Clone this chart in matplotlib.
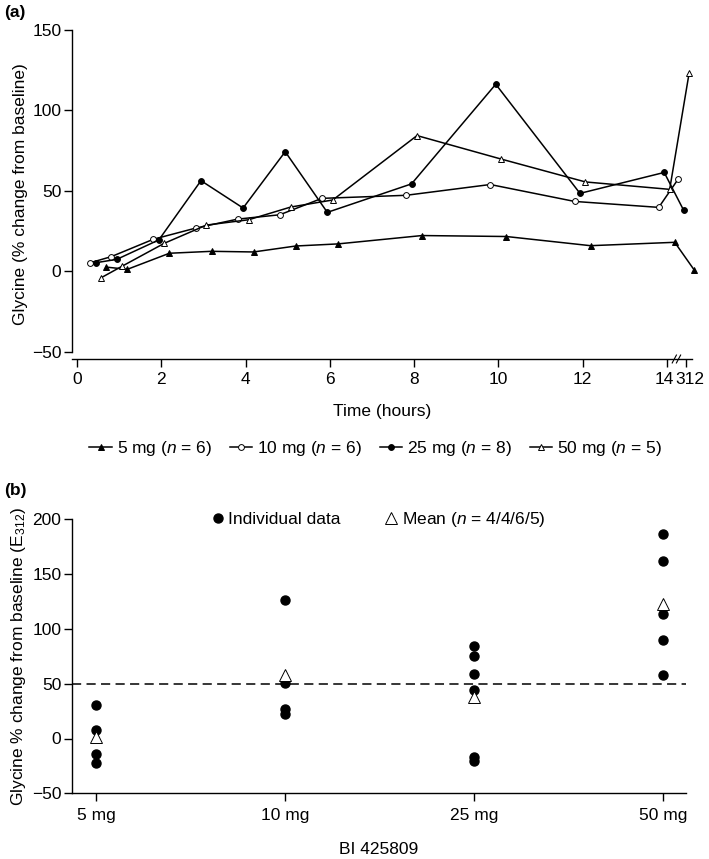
import matplotlib.pyplot as plt
import numpy as np
from matplotlib.lines import Line2D
from matplotlib.transforms import blended_transform_factory, ScaledTranslation

'''
DATA
'''

# panel (a): glycine % change from baseline over time, one list per dose
times = [0.5, 1, 2, 3, 4, 5, 6, 8, 10, 12, 14, 312]
glycine_5mg = [2.7, 1.3, 11.3, 12.5, 12.1, 15.8, 17.1, 22.3, 21.7, 16.0, 18.1, 1.0]
glycine_10mg = [5.4, 9.2, 20.0, 26.9, 32.5, 35.2, 45.4, 47.3, 54.0, 43.5, 39.8, 57.3]
glycine_25mg = [5.4, 7.5, 19.6, 56.4, 39.4, 74.4, 36.7, 54.4, 116.3, 48.5, 61.5, 38.1]
glycine_50mg = [-3.9, 3.3, 17.5, 28.8, 32.1, 40.0, 44.4, 84.4, 69.8, 55.6, 51.0, 123.0]
time_ticks = [0, 2, 4, 6, 8, 10, 12, 14, 312]

# panel (b): E312 per subject and mean, by dose
doses = ['5 mg', '10 mg', '25 mg', '50 mg']
individual = [
    [31.0, 8.2, -14.3, -22.2],
    [126.2, 50.7, 27.0, 21.9],
    [84.8, 75.4, 58.7, 44.7, -16.8, -20.7],
    [187.0, 162.0, 114.0, 90.3, 57.5],
]
means = [1.5, 57.5, 37.5, 122.5]
threshold = 50

'''
STYLE
'''

plt.rcParams['font.family'] = ['Liberation Sans', 'DejaVu Sans']
plt.rcParams['font.size'] = 12.5
plt.rcParams['mathtext.fontset'] = 'custom'
plt.rcParams['mathtext.rm'] = 'Liberation Sans'
plt.rcParams['mathtext.it'] = 'Liberation Sans:italic'
plt.rcParams['axes.linewidth'] = 1.0
plt.rcParams['xtick.major.width'] = 1.0
plt.rcParams['ytick.major.width'] = 1.0
plt.rcParams['xtick.major.size'] = 5.5
plt.rcParams['ytick.major.size'] = 5.5

W, H = 709, 859
fig = plt.figure(figsize=(W / 100, H / 100), dpi=100)


def axis_pos(t):
    # the 312 h sample sits just after 14 h on a broken axis
    t = np.asarray(t, dtype=float)
    return np.where(t > 14.5, 14.46, t)


'''
PANEL (a)
'''

ax = fig.add_axes([71.7 / W, 1 - 359 / H, (692 - 71.7) / W, (359 - 30) / H])

series = [
    ('5 mg', glycine_5mg, '^', 'black', 0.19),
    ('10 mg', glycine_10mg, 'o', 'white', -0.19),
    ('25 mg', glycine_25mg, 'o', 'black', -0.06),
    ('50 mg', glycine_50mg, '^', 'white', 0.07),
]
ns = [6, 6, 8, 5]
handles = []
for (label, vals, marker, face, dodge), n in zip(series, ns):
    ms = 4.5 if marker == '^' else 4.2
    ax.plot(axis_pos(times) + dodge, vals, '-', color='black', lw=1.1,
            marker=marker, ms=ms, mfc=face, mec='black', mew=0.7, clip_on=False)
    handles.append(Line2D([], [], color='black', lw=1.1, marker=marker, ms=ms,
                          mfc=face, mec='black', mew=0.7,
                          label=label + r' ($\it{n}$ = %d)' % n))

ax.set_xlim(-0.13, 14.6)
ax.set_ylim(-54.4, 150)
ax.spines['top'].set_visible(False)
ax.spines['right'].set_visible(False)
ax.spines['left'].set_bounds(-50, 150)
ax.set_yticks([-50, 0, 50, 100, 150])
ax.set_xticks(axis_pos(time_ticks))
ax.set_xticklabels([str(t) for t in time_ticks])
ax.tick_params(axis='x', pad=4)
ax.tick_params(axis='y', pad=2)
# nudge the two crowded labels at the break apart
for lab in ax.get_xticklabels():
    if lab.get_text() == '14':
        lab.set_transform(lab.get_transform() + ScaledTranslation(-1.5 / 72, 0, fig.dpi_scale_trans))
    elif lab.get_text() == '312':
        lab.set_transform(lab.get_transform() + ScaledTranslation(2.5 / 72, 0, fig.dpi_scale_trans))
ax.set_xlabel('Time (hours)', labelpad=12)
ax.set_ylabel('Glycine (% change from baseline)', labelpad=3)

# break marks on the time axis
trans = blended_transform_factory(ax.transData, ax.transAxes)
for dx in (-0.05, 0.05):
    ax.plot([14.18 + dx, 14.28 + dx], [-0.012, 0.012], color='black', lw=0.8,
            transform=trans, clip_on=False)

fig.legend(handles=handles, loc='center', bbox_to_anchor=(0.53, 1 - 449 / H),
           ncol=4, frameon=False, handlelength=1.3, handletextpad=0.3,
           columnspacing=1.0, borderaxespad=0)

fig.text(4 / W, 1 - 12 / H, '(a)', fontweight='bold', va='center')

'''
PANEL (b)
'''

bx = fig.add_axes([71.7 / W, 1 - 793.3 / H, (686 - 71.7) / W, (793.3 - 519.3) / H])
xpos = np.arange(len(doses))
for i, vals in enumerate(individual):
    bx.plot([xpos[i]] * len(vals), vals, 'o', color='black', ms=6.5, ls='none',
            clip_on=False)
bx.plot(xpos, means, '^', mfc='white', mec='black', mew=0.7, ms=8, ls='none',
        clip_on=False)
bx.axhline(threshold, color='black', lw=1.1, ls=(0, (6, 3.5)))

bx.set_xlim(-0.129, 3.12)
bx.set_ylim(-50, 200)
bx.spines['top'].set_visible(False)
bx.spines['right'].set_visible(False)
bx.set_yticks([-50, 0, 50, 100, 150, 200])
bx.set_xticks(xpos)
bx.set_xticklabels(doses)
bx.tick_params(axis='x', pad=5)
bx.tick_params(axis='y', pad=2)
bx.set_xlabel('BI 425809', labelpad=14)
bx.set_ylabel('Glycine % change from baseline (E$_{312}$)', labelpad=3)

leg_handles = [
    Line2D([], [], ls='none', marker='o', color='black', ms=6.5,
           label='Individual data'),
    Line2D([], [], ls='none', marker='^', mfc='white', mec='black', mew=0.7,
           ms=8, label=r'Mean ($\it{n}$ = 4/4/6/5)'),
]
bx.legend(handles=leg_handles, loc='center', bbox_to_anchor=(0.5, 1.0), ncol=2,
          frameon=False, handlelength=0.6, handletextpad=0.3, columnspacing=2.6,
          borderaxespad=0)

fig.text(4 / W, 1 - 490 / H, '(b)', fontweight='bold', va='center')

fig.savefig('out.png', dpi=100)
